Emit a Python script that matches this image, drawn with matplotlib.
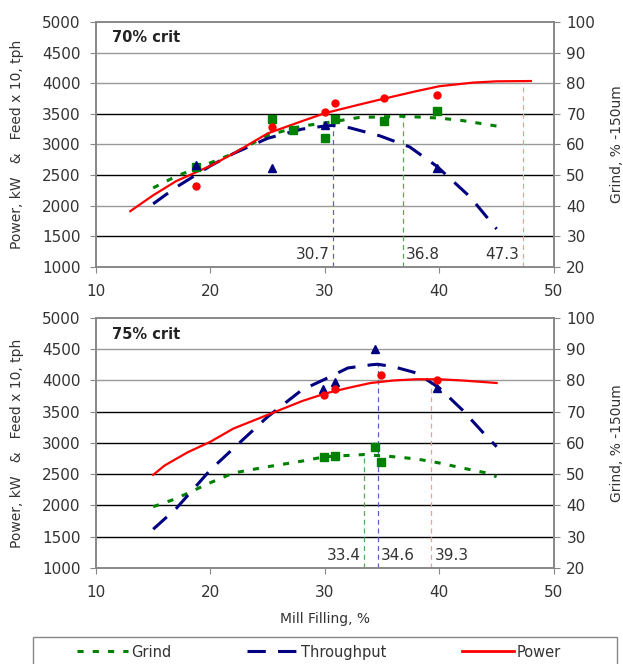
import numpy as np
import matplotlib
matplotlib.use("Agg")
import matplotlib.pyplot as plt
from matplotlib.lines import Line2D
from matplotlib.patches import Rectangle

plt.rcParams['font.family'] = ['DejaVu Sans']

# ---- 70% crit (top panel) ----
top_power_x = [13, 15, 17, 20, 22, 25, 28, 30, 33, 35, 38, 40, 43, 45, 48]
top_power_y = [1910, 2170, 2400, 2650, 2850, 3180, 3380, 3510, 3650, 3740, 3870, 3950, 4010, 4030, 4035]
top_thru_x = [15, 17, 20, 22, 25, 28, 30, 30.7, 32.2, 34.8, 37.4, 39.8, 42.7, 45]
top_thru_y = [2030, 2300, 2650, 2850, 3100, 3250, 3300, 3310, 3270, 3140, 2960, 2640, 2140, 1620]
top_grind_x = [15, 17, 20, 22, 25, 28, 30, 33, 36.8, 40, 42, 45]
top_grind_y = [2290, 2480, 2700, 2850, 3150, 3300, 3350, 3440, 3460, 3430, 3390, 3300]

top_pts_power = ([18.7, 25.4, 30.0, 30.9, 35.2, 39.8], [2320, 3285, 3530, 3680, 3760, 3810])
top_pts_grind = ([18.7, 25.4, 27.2, 30.0, 30.9, 35.2, 39.8], [2630, 3415, 3240, 3105, 3415, 3385, 3545])
top_pts_thru = ([18.7, 25.4, 30.0, 39.8], [2665, 2615, 3320, 2615])

top_marks = [30.7, 36.8, 47.3]

# ---- 75% crit (bottom panel) ----
bot_power_x = [15, 16, 18, 20, 22, 25, 28, 30, 32, 34, 36, 38, 40, 42, 45]
bot_power_y = [2490, 2640, 2850, 3020, 3230, 3450, 3670, 3790, 3880, 3960, 4000, 4020, 4020, 4000, 3960]
bot_thru_x = [15, 17, 20, 21.7, 25, 28, 30, 32, 34, 34.6, 36, 38, 40, 42, 44, 45]
bot_thru_y = [1620, 1950, 2570, 2860, 3420, 3850, 4020, 4200, 4250, 4260, 4220, 4120, 3880, 3530, 3130, 2940]
bot_grind_x = [15, 17, 20, 22, 25, 28, 30, 33.4, 36, 38, 40, 42, 44, 45]
bot_grind_y = [1980, 2110, 2365, 2520, 2620, 2710, 2780, 2815, 2780, 2745, 2680, 2600, 2525, 2460]

bot_pts_power = ([29.9, 30.9, 34.9, 39.8], [3770, 3870, 4080, 4010])
bot_pts_grind = ([29.9, 30.9, 34.4, 34.9], [2775, 2790, 2940, 2695])
bot_pts_thru = ([29.8, 30.9, 34.4, 39.8], [3865, 3980, 4505, 3875])

bot_marks = [33.4, 34.6, 39.3]

RED = '#ff0000'
NAVY = '#000080'
GREEN = '#008000'
TXT = '#333333'
GRIND_DASH = (2, 3)
THRU_DASH = (6, 4)


def draw_panel(ax, title, power, thru, grind, p_pts, g_pts, t_pts, marks, label_sides, dark_grid):
    ax.set_xlim(10, 50)
    ax.set_ylim(1000, 5000)
    for v in range(1500, 5000, 500):
        c = '#000000' if v in dark_grid else '#999999'
        ax.axhline(v, color=c, lw=1.0, zorder=0)

    ax.plot(*grind, color=GREEN, lw=2.2, dashes=GRIND_DASH, zorder=3)
    ax.plot(*thru, color=NAVY, lw=2.2, dashes=THRU_DASH, zorder=3)
    ax.plot(*power, color=RED, lw=1.6, zorder=4)

    ax.plot(*g_pts, 's', color=GREEN, ms=6, zorder=5)
    ax.plot(*t_pts, '^', color=NAVY, ms=6, zorder=5)
    ax.plot(*p_pts, 'o', color=RED, ms=5, zorder=5)

    curves = {'g': grind, 't': thru, 'p': power}
    colours = {'g': '#55aa55', 't': '#6060c0', 'p': '#ff9999'}
    for xm, (key, side) in zip(marks, label_sides):
        cx, cy = curves[key]
        ytop = np.interp(xm, cx, cy)
        ax.vlines(xm, 1000, ytop, colors=colours[key], linestyles=(0, (4, 3)), lw=0.9, zorder=2)
        if side == 'left':
            ax.text(xm - 0.3, 1080, f'{xm:.1f}', ha='right', va='bottom', fontsize=11, color=TXT)
        else:
            ax.text(xm + 0.3, 1080, f'{xm:.1f}', ha='left', va='bottom', fontsize=11, color=TXT)

    ax.text(0.035, 0.965, title, transform=ax.transAxes, ha='left', va='top',
            fontsize=10.5, fontweight='bold', color='#222222')

    ax.set_xticks([10, 20, 30, 40, 50])
    ax.set_yticks(range(1000, 5001, 500))
    ax.tick_params(direction='out', length=4, color='#888888', labelsize=11, labelcolor=TXT)
    ax.tick_params(axis='y', pad=7)
    ax.tick_params(axis='x', pad=8)
    for s in ax.spines.values():
        s.set_color('#888888')
        s.set_linewidth(1.4)
    ax.set_ylabel('Power, kW   &   Feed x 10, tph', fontsize=10, color=TXT, labelpad=13)

    ax2 = ax.twinx()
    ax2.set_ylim(20, 100)
    ax2.set_yticks(range(20, 101, 10))
    ax2.tick_params(direction='out', length=4, color='#888888', labelsize=11, labelcolor=TXT, pad=5)
    for s in ax2.spines.values():
        s.set_visible(False)
    ax2.set_ylabel('Grind, % -150um', fontsize=10, color=TXT, labelpad=11)
    return ax2


fig = plt.figure(figsize=(6.23, 6.64), dpi=100)
ax_top = fig.add_axes([0.154, 0.598, 0.735, 0.369])
ax_bot = fig.add_axes([0.154, 0.1446, 0.735, 0.3765])

draw_panel(ax_top, '70% crit',
           (top_power_x, top_power_y), (top_thru_x, top_thru_y), (top_grind_x, top_grind_y),
           top_pts_power, top_pts_grind, top_pts_thru, top_marks,
           [('t', 'left'), ('g', 'right'), ('p', 'left')], dark_grid=[1500, 2500, 3500])
draw_panel(ax_bot, '75% crit',
           (bot_power_x, bot_power_y), (bot_thru_x, bot_thru_y), (bot_grind_x, bot_grind_y),
           bot_pts_power, bot_pts_grind, bot_pts_thru, bot_marks,
           [('g', 'left'), ('t', 'right'), ('p', 'right')], dark_grid=[1500, 2000, 2500, 3000, 3500])

ax_bot.set_xlabel('Mill Filling, %', fontsize=10, color=TXT, labelpad=9)

# legend box (runs off the bottom edge as in the source)
fig.patches.append(Rectangle((33 / 623, -0.02), 584 / 623, 0.02 + 27 / 664,
                             transform=fig.transFigure, fill=False,
                             edgecolor='#888888', lw=1.0))
handles = [Line2D([], [], color=GREEN, lw=2.2, dashes=GRIND_DASH),
           Line2D([], [], color=NAVY, lw=2.2, dashes=THRU_DASH),
           Line2D([], [], color=RED, lw=2)]
leg = fig.legend(handles, ['Grind', 'Throughput', 'Power'], ncol=3, loc='center',
                 bbox_to_anchor=(0.512, 0.018), frameon=False,
                 fontsize=10.5, handlelength=3.5, handletextpad=0.2, columnspacing=5.2)
for t in leg.get_texts():
    t.set_color(TXT)

fig.savefig('out.png', dpi=100)
